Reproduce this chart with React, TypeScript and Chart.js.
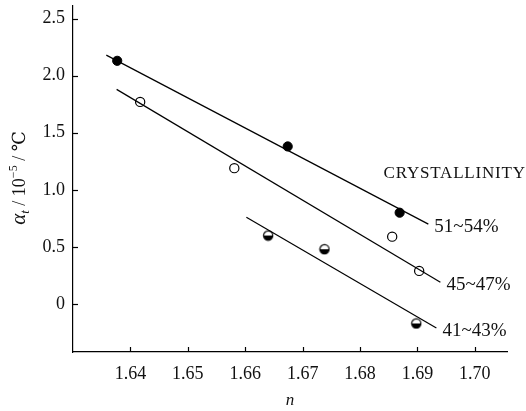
import React, { useEffect, useRef } from 'react';
import { Chart, registerables } from 'chart.js';
Chart.register(...registerables);

// tick values
const xTicks = [1.64, 1.65, 1.66, 1.67, 1.68, 1.69, 1.70];
const yTicks = [0, 0.5, 1.0, 1.5, 2.0, 2.5];

// measured points: refractive index n vs thermal expansion coefficient
const nHigh = [1.6377, 1.6674, 1.6869];
const aHigh = [2.13, 1.38, 0.80];
const nMid = [1.6417, 1.6581, 1.6856, 1.6903];
const aMid = [1.77, 1.19, 0.59, 0.29];
const nLow = [1.6640, 1.6738, 1.6898];
const aLow = [0.60, 0.48, -0.17];

// fitted lines (end points)
const fitHighN = [1.6358, 1.6919];
const fitHighA = [2.18, 0.70];
const fitMidN = [1.6376, 1.6940];
const fitMidA = [1.88, 0.19];
const fitLowN = [1.6602, 1.6933];
const fitLowA = [0.76, -0.21];

const seriesLabels = ['51~54%', '45~47%', '41~43%'];
const legendTitle = 'CRYSTALLINITY';
const xTitle = 'n';

const FONT = "'Liberation Serif', 'DejaVu Serif', serif";

function toPts(xs: number[], ys: number[]) {
  return xs.map((x, i) => ({ x, y: ys[i] }));
}

function makeHalfMarker(): HTMLCanvasElement {
  const c = document.createElement('canvas');
  c.width = 12;
  c.height = 12;
  const g = c.getContext('2d')!;
  g.fillStyle = '#fff';
  g.beginPath();
  g.arc(6, 6, 4.6, 0, Math.PI * 2);
  g.fill();
  g.fillStyle = '#000';
  g.beginPath();
  g.arc(6, 6, 4.6, 0, Math.PI);
  g.closePath();
  g.fill();
  g.strokeStyle = '#000';
  g.lineWidth = 1.2;
  g.beginPath();
  g.arc(6, 6, 4.6, 0, Math.PI * 2);
  g.stroke();
  return c;
}

const decorPlugin = {
  id: 'decor',
  afterDraw(chart: any) {
    const { ctx, chartArea, scales } = chart;
    const xs = scales.x;
    const ys = scales.y;
    ctx.save();
    ctx.strokeStyle = '#000';
    ctx.lineWidth = 1.2;
    // inward ticks
    yTicks.forEach((v) => {
      const py = Math.round(ys.getPixelForValue(v)) + 0.5;
      ctx.beginPath();
      ctx.moveTo(chartArea.left, py);
      ctx.lineTo(chartArea.left + 5, py);
      ctx.stroke();
    });
    xTicks.forEach((v) => {
      const px = Math.round(xs.getPixelForValue(v)) + 0.5;
      ctx.beginPath();
      ctx.moveTo(px, chartArea.bottom);
      ctx.lineTo(px, chartArea.bottom - 5);
      ctx.stroke();
    });

    ctx.fillStyle = '#111';
    // series labels at fitted line ends
    const ends = [
      [fitHighN[1], fitHighA[1]],
      [fitMidN[1], fitMidA[1]],
      [fitLowN[1], fitLowA[1]],
    ];
    ctx.font = `19px ${FONT}`;
    ctx.textAlign = 'left';
    ctx.textBaseline = 'middle';
    ends.forEach((e, i) => {
      const px = xs.getPixelForValue(e[0]);
      const py = ys.getPixelForValue(e[1]);
      ctx.fillText(seriesLabels[i], px + 6, py + 3);
    });
    // legend title
    ctx.font = `17px ${FONT}`;
    ctx.textAlign = 'left';
    (ctx as any).letterSpacing = '0.8px';
    ctx.fillText(legendTitle, xs.getPixelForValue(1.6841), ys.getPixelForValue(1.145));
    (ctx as any).letterSpacing = '0px';

    // x title
    ctx.font = `italic 17px ${FONT}`;
    ctx.textAlign = 'center';
    ctx.fillText(xTitle, (chartArea.left + chartArea.right) / 2, 401);

    // y title, rotated
    ctx.translate(25, 178);
    ctx.rotate(-Math.PI / 2);
    ctx.textBaseline = 'alphabetic';
    ctx.textAlign = 'left';
    const parts: [string, string, number][] = [
      ['α', `italic 21px ${FONT}`, 0],
      ['t', `italic 13px ${FONT}`, 4],
      [' / 10', `18px ${FONT}`, 0],
      ['−5', `12px ${FONT}`, -8],
      [' / ℃', `18px ${FONT}`, 0],
    ];
    let total = 0;
    parts.forEach((p) => {
      ctx.font = p[1];
      total += ctx.measureText(p[0]).width;
    });
    let cx = -total / 2;
    parts.forEach((p) => {
      ctx.font = p[1];
      ctx.fillText(p[0], cx, p[2]);
      cx += ctx.measureText(p[0]).width;
    });
    ctx.restore();
  },
};

export default function App() {
  const ref = useRef<HTMLCanvasElement>(null);
  useEffect(() => {
    if (!ref.current) return;
    const half = makeHalfMarker();
    const lineDs = (xs: number[], ys: number[]) => ({
      type: 'line' as const,
      data: toPts(xs, ys),
      borderColor: '#000',
      borderWidth: 1.2,
      pointRadius: 0,
      showLine: true,
      fill: false,
    });
    const chart = new Chart(ref.current, {
      type: 'scatter',
      data: {
        datasets: [
          lineDs(fitHighN, fitHighA),
          lineDs(fitMidN, fitMidA),
          lineDs(fitLowN, fitLowA),
          {
            data: toPts(nHigh, aHigh),
            pointRadius: 4.6,
            backgroundColor: '#000',
            borderColor: '#000',
            borderWidth: 1,
          },
          {
            data: toPts(nMid, aMid),
            pointRadius: 4.6,
            backgroundColor: '#fff',
            borderColor: '#000',
            borderWidth: 1.2,
          },
          {
            data: toPts(nLow, aLow),
            pointStyle: half as any,
            pointRadius: 5,
          },
        ] as any,
      },
      options: {
        animation: false,
        responsive: false,
        events: [],
        layout: { padding: { left: 0, right: 19, top: 4, bottom: 0 } },
        plugins: { legend: { display: false }, tooltip: { enabled: false } },
        scales: {
          x: {
            type: 'linear',
            min: 1.63,
            max: 1.7056,
            afterFit: (s: any) => {
              s.height = 59;
              s.paddingLeft = 0;
              s.paddingRight = 0;
            },
            afterBuildTicks: (s: any) => {
              s.ticks = xTicks.map((v) => ({ value: v }));
            },
            grid: { display: false, drawTicks: false },
            border: { display: true, color: '#000', width: 1.2 },
            ticks: {
              padding: 11,
              color: '#111',
              font: { family: FONT, size: 18 },
              callback: (v: any) => Number(v).toFixed(2),
              maxRotation: 0,
            },
          },
          y: {
            type: 'linear',
            min: -0.42,
            max: 2.61,
            afterFit: (s: any) => {
              s.width = 73;
              s.paddingTop = 0;
              s.paddingBottom = 0;
            },
            afterBuildTicks: (s: any) => {
              s.ticks = yTicks.map((v) => ({ value: v }));
            },
            grid: { display: false, drawTicks: false },
            border: { display: true, color: '#000', width: 1.2 },
            ticks: {
              padding: 8,
              color: '#111',
              font: { family: FONT, size: 18 },
              callback: (v: any) => (Number(v) === 0 ? '0' : Number(v).toFixed(1)),
            },
          },
        },
      },
      plugins: [decorPlugin],
    });
    return () => chart.destroy();
  }, []);
  return (
    <div style={{ position: 'fixed', left: 0, top: 0, width: 526, height: 411, background: '#fff' }}>
      <canvas ref={ref} width={526} height={411} style={{ display: 'block' }} />
    </div>
  );
}
